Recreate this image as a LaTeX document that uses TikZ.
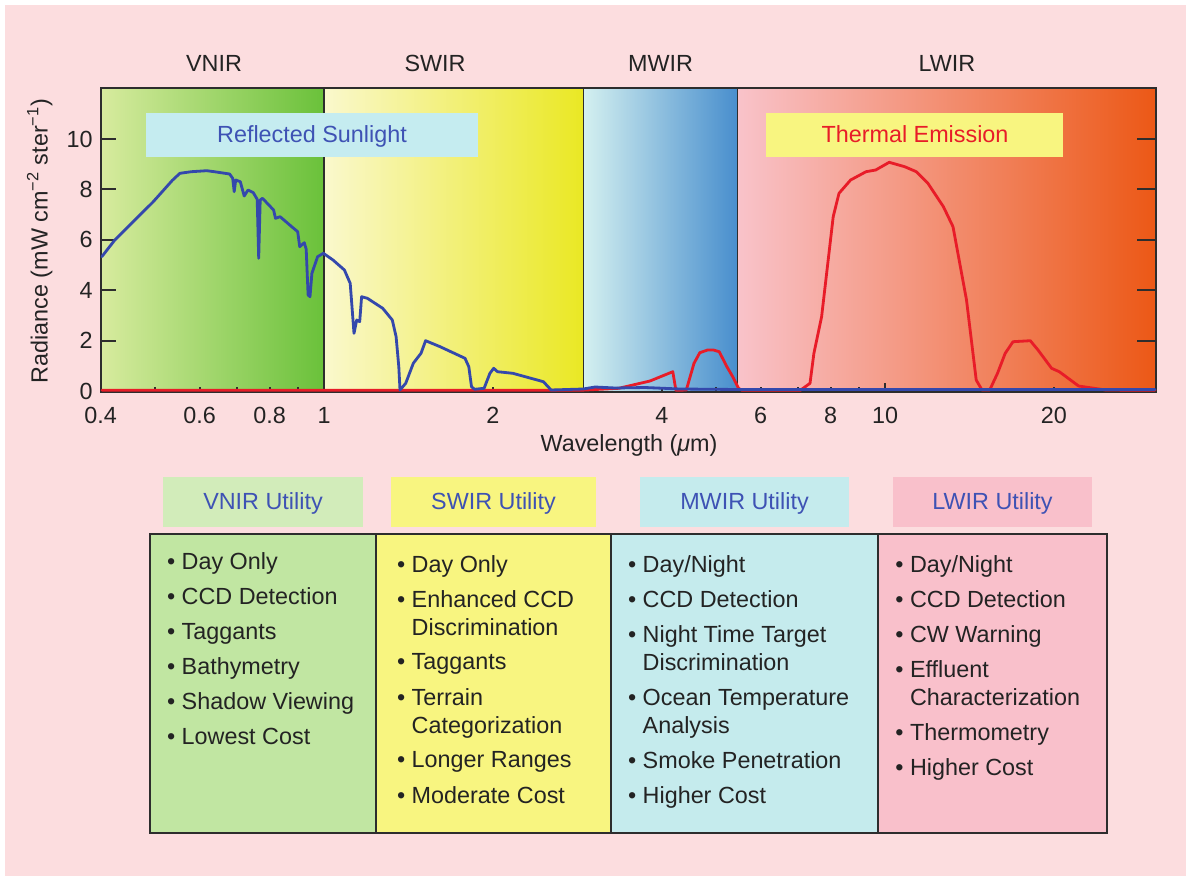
\documentclass[tikz,border=0pt]{standalone}
\usepackage{fontspec}
\setmainfont{Liberation Sans}
\usetikzlibrary{calc}
\definecolor{bgpink}{RGB}{252,221,223}
\definecolor{inkgray}{RGB}{35,35,35}
\definecolor{framegray}{RGB}{45,45,45}
\definecolor{hdrblue}{RGB}{62,82,180}
\definecolor{sunblue}{RGB}{52,72,172}
\definecolor{heatred}{RGB}{232,28,40}
\definecolor{sunbox}{RGB}{197,236,240}
\definecolor{heatbox}{RGB}{248,245,128}
\definecolor{vnircol}{RGB}{193,230,162}
\definecolor{vnirhd}{RGB}{210,236,186}
\definecolor{swircol}{RGB}{248,245,128}
\definecolor{mwircol}{RGB}{197,235,237}
\definecolor{lwircol}{RGB}{249,192,203}
\newcommand{\bulgap}{\hphantom{\textbullet\ }}

\begin{document}
\begin{tikzpicture}[x=0.02cm, y=-0.02cm,
    declare function={wl(\l)=324+561*log10(\l); rv(\r)=391-25.2*\r;},
    every node/.style={font=\fontsize{13.3}{15.9}\selectfont, text=inkgray, inner sep=0pt},
    axisline/.style={draw=framegray, line width=1.1pt},
    curve/.style={line width=1.6pt, line join=round, line cap=round},
    hdrtxt/.style={text=hdrblue, anchor=base},
    itemtxt/.style={anchor=north west, align=left},
    cell/.style={draw=framegray, line width=0.9pt}]
    \useasboundingbox (0,0) rectangle (1186,876);
    \fill[white] (0,0) rectangle (1186,876);
    \fill[bgpink] (5,5) rectangle (1186,876);
    % bands
    \shade[left color={rgb,255:red,215;green,235;blue,158}, middle color={rgb,255:red,172;green,219;blue,114}, right color={rgb,255:red,106;green,193;blue,58}] (101,88) rectangle (324,392);
    \shade[left color={rgb,255:red,250;green,248;blue,205}, middle color={rgb,255:red,245;green,243;blue,150}, right color={rgb,255:red,234;green,232;blue,35}] (324,88) rectangle (583.5,392);
    \shade[left color={rgb,255:red,212;green,240;blue,240}, middle color={rgb,255:red,150;green,219;blue,242}, right color={rgb,255:red,72;green,142;blue,205}] (583.5,88) rectangle (737.5,392);
    \shade[left color={rgb,255:red,249;green,195;blue,202}, middle color={rgb,255:red,245;green,165;blue,140}, right color={rgb,255:red,236;green,88;blue,22}] (737.5,88) rectangle (1156,392);
    \node[anchor=base] (vnirlbl) at (214,71) {VNIR};
    \node[anchor=base] (swirlbl) at (435,71) {SWIR};
    \node[anchor=base] (mwirlbl) at (660.5,71) {MWIR};
    \node[anchor=base] (lwirlbl) at (947,71) {LWIR};
    % axis
    \path[axisline] (101,88) rectangle (1156,392);
    \foreach \d in {324,583.5,737.5} \path[axisline] (\d,88) -- (\d,392);
    \foreach \w in {0.5,0.6,0.7,0.8,0.9,2,3,4,5,6,7,8,9,20} \path[axisline] ({wl(\w)},392) -- ++(0,-5);
    \foreach \w in {1,10} \path[axisline] ({wl(\w)},392) -- ++(0,-9);
    \foreach \v in {0,2,...,10} {
        \path[axisline] (101,{rv(\v)}) -- ++(15,0);
        \path[axisline] (1156,{rv(\v)}) -- ++(-19,0);
        \node[anchor=east] (ytick\v) at (93,{rv(\v)}) {\v};
    }
    \foreach \w [count=\i] in {0.4,0.6,0.8,1,2,4,6,8,10,20} \node[anchor=base] (xtick\i) at ({wl(\w)},423.3) {\w};
    \node[anchor=base] (xname) at (629,451.5) {Wavelength (\textit{μ}m)};
    \node[anchor=base, rotate=90] (yname) at (47.5,241) {Radiance (mW cm\textsuperscript{−2} ster\textsuperscript{−1})};
    % sources
    \fill[sunbox] (145.5,113) rectangle (478,157);
    \node[anchor=base, text=hdrblue] (sunlbl) at (312,142.7) {Reflected Sunlight};
    \fill[heatbox] (766,113) rectangle (1063,157);
    \node[anchor=base, text=heatred] (heatlbl) at (915,142.7) {Thermal Emission};
    % radiance
    \path[draw, curve, heatred] plot coordinates {(102,390.3) (580,390.3) (618.7,388.3) (650,381) (672.8,371.7) (675.9,390.3) (686.3,390) (694,363.3) (699.8,352.7) (707.6,350) (713.4,350) (719.2,351.7) (726.9,366.7) (732.7,376.7) (738.5,388.3) (742,390.3) (800.3,390.3) (810,383.3) (813.9,353.3) (821.6,316.7) (827.4,266.7) (833.2,216.7) (839,193.3) (850.6,180) (866,171.7) (875.7,170) (889.2,162.3) (904.7,166.7) (916.3,171.7) (927.9,183.3) (943.4,206.7) (953,226.7) (966.5,300) (976.2,380) (982,390) (989.7,390) (997.5,373.3) (1005.2,353.3) (1013,341.7) (1030.3,340.7) (1038,350) (1051.6,368.3) (1059.3,371.7) (1078.6,386) (1105.7,390) (1155,390.3)};
    \path[draw, curve, sunblue] plot coordinates {(101.8,256.7) (114.8,240) (153,202) (172.2,180.5) (179.9,173.3) (191.4,171.7) (206.7,170.7) (214.3,171.7) (229.6,174) (232.7,178.3) (234.2,191.7) (235.7,180) (240.3,181.7) (244.2,196) (248,190) (253.3,192.7) (257.2,199.3) (258.7,258.3) (260.2,200) (262.5,198.3) (273.6,210) (275.5,218.3) (280.1,216.7) (290.9,226) (297.7,231.7) (299.7,246.7) (304.3,242.7) (306.2,249.3) (308.1,295) (310,296.7) (311.9,273.3) (317.6,256.7) (323.4,253.3) (333,260) (344.4,270) (350.2,283.3) (354,333.3) (356.7,320) (359.7,321.7) (361.6,296.7) (367.4,298.3) (382.7,308.3) (392.3,320) (396.1,336.7) (398.8,366.7) (400,390) (405.7,383.3) (413.3,363.3) (417.1,358.3) (421,353.3) (425.6,340.7) (440.1,346.7) (465,358.3) (468.8,366.7) (471.5,386.7) (474.6,389.3) (484.1,388.3) (489.9,373.3) (493.7,368.3) (497.5,371.7) (512.8,373.3) (543.4,381.7) (551.1,390) (583,389) (595,387) (615,388) (645,387.5) (680,389) (740,389.5) (1155,389.5)};
    % utility table
    \fill[vnirhd] (163,477) rectangle (363,527);
    \fill[swircol] (391,477) rectangle (596,527);
    \fill[mwircol] (640,477) rectangle (849,527);
    \fill[lwircol] (893,477) rectangle (1092,527);
    \node[hdrtxt] (vnirhdr) at (263,509.3) {VNIR Utility};
    \node[hdrtxt] (swirhdr) at (493.5,509.3) {SWIR Utility};
    \node[hdrtxt] (mwirhdr) at (744.5,509.3) {MWIR Utility};
    \node[hdrtxt] (lwirhdr) at (992.5,509.3) {LWIR Utility};
    \path[cell, fill=vnircol] (150,534) rectangle (376,833);
    \path[cell, fill=swircol] (376,534) rectangle (611,833);
    \path[cell, fill=mwircol] (611,534) rectangle (878,833);
    \path[cell, fill=lwircol] (878,534) rectangle (1107,833);
    \foreach \t [count=\i] in {Day Only, CCD Detection, Taggants, Bathymetry, Shadow Viewing, Lowest Cost}
        \node[itemtxt] (vnir\i) at (166.7,{552.7+35*(\i-1)}) {\textbullet\ \t};
    \foreach \y/\t [count=\i] in {555/{Day Only}, 590.5/{Enhanced CCD\\\bulgap Discrimination}, 653.5/{Taggants}, 688.5/{Terrain\\\bulgap Categorization}, 751.5/{Longer Ranges}, 786.5/{Moderate Cost}}
        \node[itemtxt] (swir\i) at (396.7,\y) {\textbullet\ \t};
    \foreach \y/\t [count=\i] in {555/{Day/Night}, 590.5/{CCD Detection}, 625.7/{Night Time Target\\\bulgap Discrimination}, 688.5/{Ocean Temperature\\\bulgap Analysis}, 751.5/{Smoke Penetration}, 786.5/{Higher Cost}}
        \node[itemtxt] (mwir\i) at (627.7,\y) {\textbullet\ \t};
    \foreach \y/\t [count=\i] in {555/{Day/Night}, 590.5/{CCD Detection}, 625.7/{CW Warning}, 660.7/{Effluent\\\bulgap Characterization}, 723.3/{Thermometry}, 758.3/{Higher Cost}}
        \node[itemtxt] (lwir\i) at (895,\y) {\textbullet\ \t};
\end{tikzpicture}
\end{document}
